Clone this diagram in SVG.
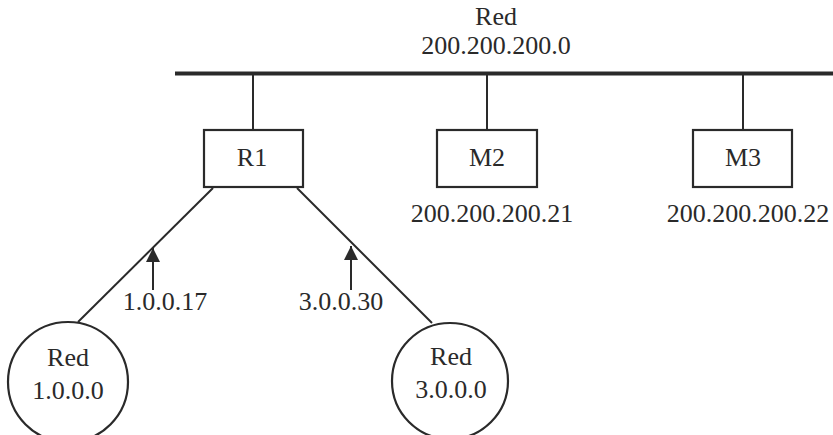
<svg xmlns="http://www.w3.org/2000/svg" width="833" height="435" viewBox="0 0 833 435">
<style>
text{font-family:"Liberation Serif","Times New Roman",serif;font-size:26px;fill:#2a2a2a;text-anchor:middle}
.ln{stroke:#2a2a2a;stroke-width:2;fill:none}
.box{stroke:#2a2a2a;stroke-width:2.2;fill:#fff}
</style>
<defs>
<marker id="ah" viewBox="0 0 10 10" refX="10" refY="5" markerWidth="14" markerHeight="14" markerUnits="userSpaceOnUse" orient="auto">
<path d="M0,0 L10,5 L0,10 z" fill="#2a2a2a"/>
</marker>
</defs>
<rect width="833" height="435" fill="#fff"/>
<g id="bus">
<line x1="175" y1="73.5" x2="833" y2="73.5" stroke="#2a2a2a" stroke-width="4"/>
<text x="496" y="25">Red</text>
<text x="496" y="54">200.200.200.0</text>
</g>
<g id="connectors">
<line class="ln" x1="253" y1="75" x2="253" y2="130"/>
<line class="ln" x1="487" y1="75" x2="487" y2="130"/>
<line class="ln" x1="743" y1="75" x2="743" y2="130"/>
<line class="ln" x1="213" y1="188" x2="78" y2="322"/>
<line class="ln" x1="297" y1="188" x2="432" y2="323"/>
<line class="ln" x1="153" y1="290" x2="153" y2="248" marker-end="url(#ah)"/>
<line class="ln" x1="351" y1="290" x2="351" y2="246" marker-end="url(#ah)"/>
<text x="165" y="310">1.0.0.17</text>
<text x="341" y="310">3.0.0.30</text>
</g>
<g id="R1">
<rect class="box" x="204" y="130" width="99" height="57"/>
<text x="252" y="166">R1</text>
</g>
<g id="M2">
<rect class="box" x="437" y="130" width="100" height="57"/>
<text x="487" y="166">M2</text>
<text x="492" y="222">200.200.200.21</text>
</g>
<g id="M3">
<rect class="box" x="693" y="130" width="99" height="57"/>
<text x="743" y="166">M3</text>
<text x="748" y="222">200.200.200.22</text>
</g>
<g id="net1">
<circle class="box" cx="68" cy="382" r="60"/>
<text x="68" y="366">Red</text>
<text x="68" y="399">1.0.0.0</text>
</g>
<g id="net3">
<circle class="box" cx="450" cy="381" r="58"/>
<text x="451" y="365">Red</text>
<text x="451" y="398">3.0.0.0</text>
</g>
</svg>
